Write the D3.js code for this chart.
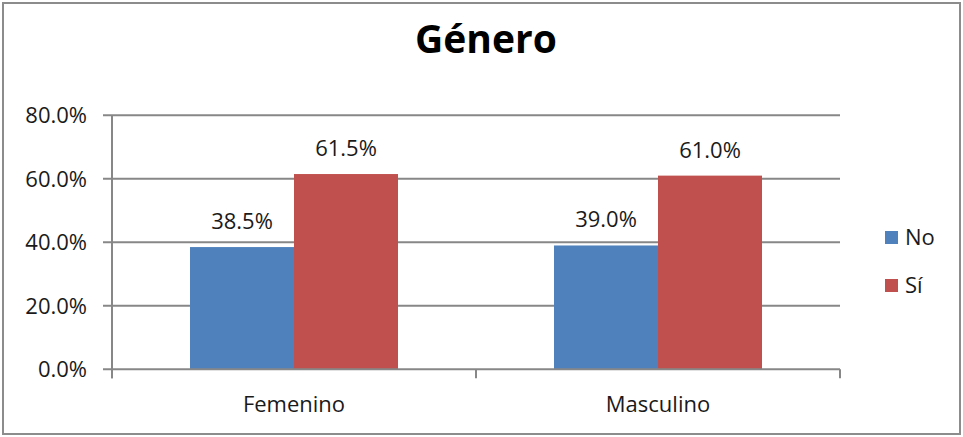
<!DOCTYPE html>
<html>
<head>
<meta charset="utf-8">
<script src="https://cdn.jsdelivr.net/npm/d3@7"></script>
<style>
  html, body { margin: 0; padding: 0; background: #fff; }
  svg text { font-family: "Open Sans", "Noto Sans", sans-serif; fill: #1a1a1a; }
</style>
</head>
<body>
<svg id="chart" width="963" height="437"></svg>
<script>
// Chart data
const categories = ["Femenino", "Masculino"];
const seriesNames = ["No", "Sí"];
const noValues = [38.5, 39.0];
const siValues = [61.5, 61.0];
const yTicks = [0, 20, 40, 60, 80];
const seriesColors = ["#4F81BD", "#C0504D"];

const seriesValues = [noValues, siValues];

const svg = d3.select("#chart");
const W = 963, H = 437;

// Outer frame
svg.append("rect")
  .attr("x", 3).attr("y", 3)
  .attr("width", W - 6).attr("height", H - 6)
  .attr("fill", "#fff")
  .attr("stroke", "#8c8c8c").attr("stroke-width", 2);

// Title
svg.append("text")
  .attr("x", 486).attr("y", 53)
  .attr("text-anchor", "middle")
  .style("font-size", "39px").style("font-weight", "bold")
  .style("fill", "#000")
  .text("Género");

const plot = { left: 112, right: 840, top: 115.3, bottom: 369.3 };

const x = d3.scaleBand()
  .domain(categories)
  .range([plot.left, plot.right])
  .paddingInner(0.4286)
  .paddingOuter(0.2143);

const xSub = d3.scaleBand()
  .domain(seriesNames)
  .range([0, x.bandwidth()]);

const y = d3.scaleLinear()
  .domain([0, 80])
  .range([plot.bottom, plot.top]);

const gridColor = "#878787";

// Horizontal gridlines with left tick stubs
svg.append("g")
  .selectAll("line")
  .data(yTicks.filter(t => t > 0))
  .join("line")
  .attr("x1", plot.left - 9).attr("x2", plot.right)
  .attr("y1", d => y(d)).attr("y2", d => y(d))
  .attr("stroke", gridColor).attr("stroke-width", 2);

// Y axis labels
svg.append("g")
  .selectAll("text")
  .data(yTicks)
  .join("text")
  .attr("x", 87).attr("y", d => y(d) + 8)
  .attr("text-anchor", "end")
  .style("font-size", "22px")
  .text(d => d3.format(".1f")(d) + "%");

// Bars
const groups = svg.append("g")
  .selectAll("g")
  .data(categories)
  .join("g")
  .attr("transform", d => `translate(${x(d)},0)`);

groups.selectAll("rect")
  .data((d, i) => seriesNames.map((s, j) => ({ s, j, v: seriesValues[j][i] })))
  .join("rect")
  .attr("x", d => xSub(d.s))
  .attr("width", xSub.bandwidth())
  .attr("y", d => y(d.v))
  .attr("height", d => y(0) - y(d.v))
  .attr("fill", d => seriesColors[d.j]);

// Value labels
groups.selectAll("text")
  .data((d, i) => seriesNames.map((s, j) => ({ s, j, v: seriesValues[j][i] })))
  .join("text")
  .attr("x", d => xSub(d.s) + xSub.bandwidth() / 2)
  .attr("y", d => y(d.v) - 18)
  .attr("text-anchor", "middle")
  .style("font-size", "22px")
  .text(d => d3.format(".1f")(d.v) + "%");

// Y axis line
svg.append("line")
  .attr("x1", plot.left).attr("x2", plot.left)
  .attr("y1", plot.top).attr("y2", plot.bottom + 9)
  .attr("stroke", gridColor).attr("stroke-width", 2);

// X axis line and category boundary ticks
svg.append("line")
  .attr("x1", plot.left - 9).attr("x2", plot.right)
  .attr("y1", plot.bottom).attr("y2", plot.bottom)
  .attr("stroke", gridColor).attr("stroke-width", 2);

const boundaries = [plot.left, ...categories.map(c => x(c) - x.step() * x.paddingInner() / 2 + x.step())];
svg.append("g")
  .selectAll("line")
  .data(boundaries)
  .join("line")
  .attr("x1", d => d).attr("x2", d => d)
  .attr("y1", plot.bottom).attr("y2", plot.bottom + 9)
  .attr("stroke", gridColor).attr("stroke-width", 2);

// Category labels
svg.append("g")
  .selectAll("text")
  .data(categories)
  .join("text")
  .attr("x", d => x(d) + x.bandwidth() / 2)
  .attr("y", 412)
  .attr("text-anchor", "middle")
  .style("font-size", "22px")
  .text(d => d);

// Legend
const legend = svg.append("g")
  .selectAll("g")
  .data(seriesNames)
  .join("g")
  .attr("transform", (d, i) => `translate(885,${231 + i * 48})`);

legend.append("rect")
  .attr("width", 13).attr("height", 13)
  .attr("fill", (d, i) => seriesColors[i]);

legend.append("text")
  .attr("x", 20).attr("y", 14)
  .style("font-size", "22px")
  .text(d => d);
</script>
</body>
</html>
